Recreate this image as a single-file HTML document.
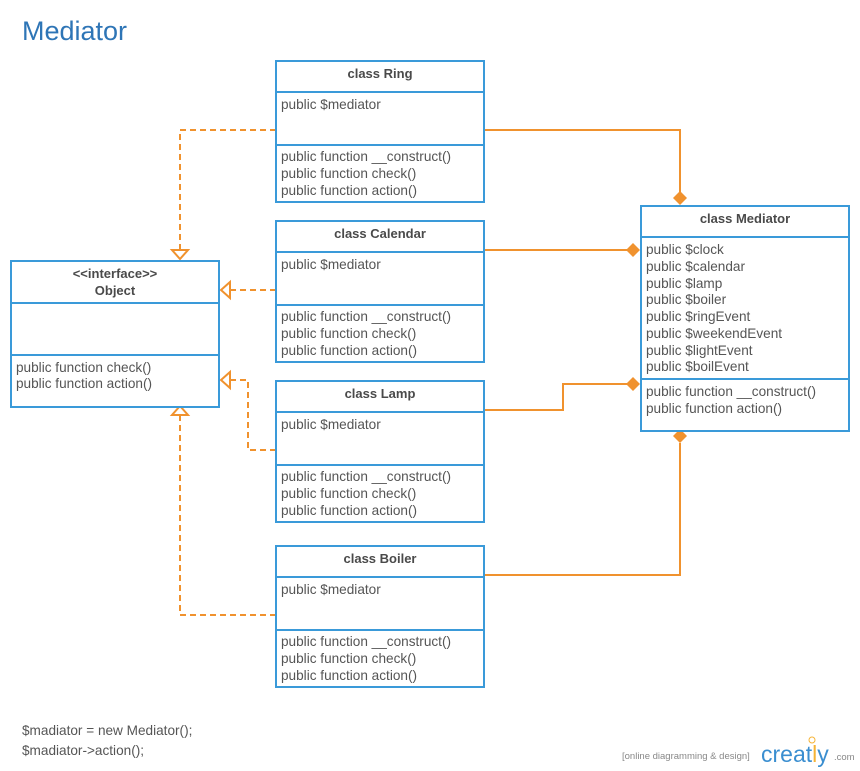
<!DOCTYPE html>
<html><head><meta charset="utf-8"><style>
html,body{margin:0;padding:0;background:#fff;}
svg{display:block;}
text{font-family:"Liberation Sans",sans-serif;font-size:13.6px;fill:#555;}
.h{font-weight:bold;font-size:13px;fill:#4a4a4a;}
</style></head><body>
<svg width="860" height="771" viewBox="0 0 860 771" xmlns="http://www.w3.org/2000/svg">
<text x="22" y="40" style="font-size:27px;fill:#2e75b6">Mediator</text>

<g fill="none" stroke="#f0922e" stroke-width="2">
<polyline points="276,130 180,130 180,250" stroke-dasharray="6,4"/>
<polyline points="276,290 230,290" stroke-dasharray="6,4"/>
<polyline points="276,450 248,450 248,380 230,380" stroke-dasharray="6,4"/>
<polyline points="276,615 180,615 180,416" stroke-dasharray="6,4"/>
<polyline points="484,130 680,130 680,193"/>
<polyline points="484,250 628,250"/>
<polyline points="484,410 563,410 563,384 628,384"/>
<polyline points="484,575 680,575 680,443"/>
</g>
<g fill="#fff" stroke="#f0922e" stroke-width="2">
<polygon points="172,250 188,250 180,259"/>
<polygon points="230,282 230,298 221,290"/>
<polygon points="230,372 230,388 221,380"/>
<polygon points="172,415 188,415 180,406"/>
</g>
<g fill="#f0922e">
<polygon points="680,191 687,198 680,205 673,198"/>
<polygon points="626,250 633,243 640,250 633,257"/>
<polygon points="626,384 633,377 640,384 633,391"/>
<polygon points="680,429 687,436 680,443 673,436"/>
</g>

<g fill="#fff" stroke="#3a9ad9" stroke-width="2">
<rect x="276" y="61" width="208" height="141"/>
<line x1="276" y1="92" x2="484" y2="92"/><line x1="276" y1="145" x2="484" y2="145"/>
<rect x="276" y="221" width="208" height="141"/>
<line x1="276" y1="252" x2="484" y2="252"/><line x1="276" y1="305" x2="484" y2="305"/>
<rect x="276" y="381" width="208" height="141"/>
<line x1="276" y1="412" x2="484" y2="412"/><line x1="276" y1="465" x2="484" y2="465"/>
<rect x="276" y="546" width="208" height="141"/>
<line x1="276" y1="577" x2="484" y2="577"/><line x1="276" y1="630" x2="484" y2="630"/>
<rect x="11" y="261" width="208" height="146"/>
<line x1="11" y1="303" x2="219" y2="303"/><line x1="11" y1="355" x2="219" y2="355"/>
<rect x="641" y="206" width="208" height="225"/>
<line x1="641" y1="237" x2="849" y2="237"/><line x1="641" y1="379" x2="849" y2="379"/>
</g>

<text class="h" x="380" y="78" text-anchor="middle">class Ring</text>
<text x="281" y="109">public $mediator</text>
<text x="281" y="161">public function __construct()</text>
<text x="281" y="178">public function check()</text>
<text x="281" y="195">public function action()</text>

<text class="h" x="380" y="238" text-anchor="middle">class Calendar</text>
<text x="281" y="269">public $mediator</text>
<text x="281" y="321">public function __construct()</text>
<text x="281" y="338">public function check()</text>
<text x="281" y="355">public function action()</text>

<text class="h" x="380" y="398" text-anchor="middle">class Lamp</text>
<text x="281" y="429">public $mediator</text>
<text x="281" y="481">public function __construct()</text>
<text x="281" y="498">public function check()</text>
<text x="281" y="515">public function action()</text>

<text class="h" x="380" y="563" text-anchor="middle">class Boiler</text>
<text x="281" y="594">public $mediator</text>
<text x="281" y="646">public function __construct()</text>
<text x="281" y="663">public function check()</text>
<text x="281" y="680">public function action()</text>

<text class="h" x="115" y="278" text-anchor="middle">&lt;&lt;interface&gt;&gt;</text>
<text class="h" x="115" y="295" text-anchor="middle">Object</text>
<text x="16" y="372">public function check()</text>
<text x="16" y="388">public function action()</text>

<text class="h" x="745" y="223" text-anchor="middle">class Mediator</text>
<text x="646" y="254">public $clock</text>
<text x="646" y="271">public $calendar</text>
<text x="646" y="288">public $lamp</text>
<text x="646" y="304">public $boiler</text>
<text x="646" y="321">public $ringEvent</text>
<text x="646" y="338">public $weekendEvent</text>
<text x="646" y="355">public $lightEvent</text>
<text x="646" y="371">public $boilEvent</text>
<text x="646" y="396">public function __construct()</text>
<text x="646" y="413">public function action()</text>

<text x="22" y="735">$madiator = new Mediator();</text>
<text x="22" y="755">$madiator-&gt;action();</text>

<text x="622" y="759" style="font-size:9.5px;fill:#888">[online diagramming &amp; design]</text>
<text x="761" y="762" style="font-size:23px;fill:#3a8ed0">creat<tspan style="fill:#f5b335">l</tspan>y</text>
<text x="834" y="760" style="font-size:9.5px;fill:#888">.com</text>
<circle cx="812" cy="740" r="3" fill="none" stroke="#f5b335" stroke-width="1"/>
</svg>
</body></html>
